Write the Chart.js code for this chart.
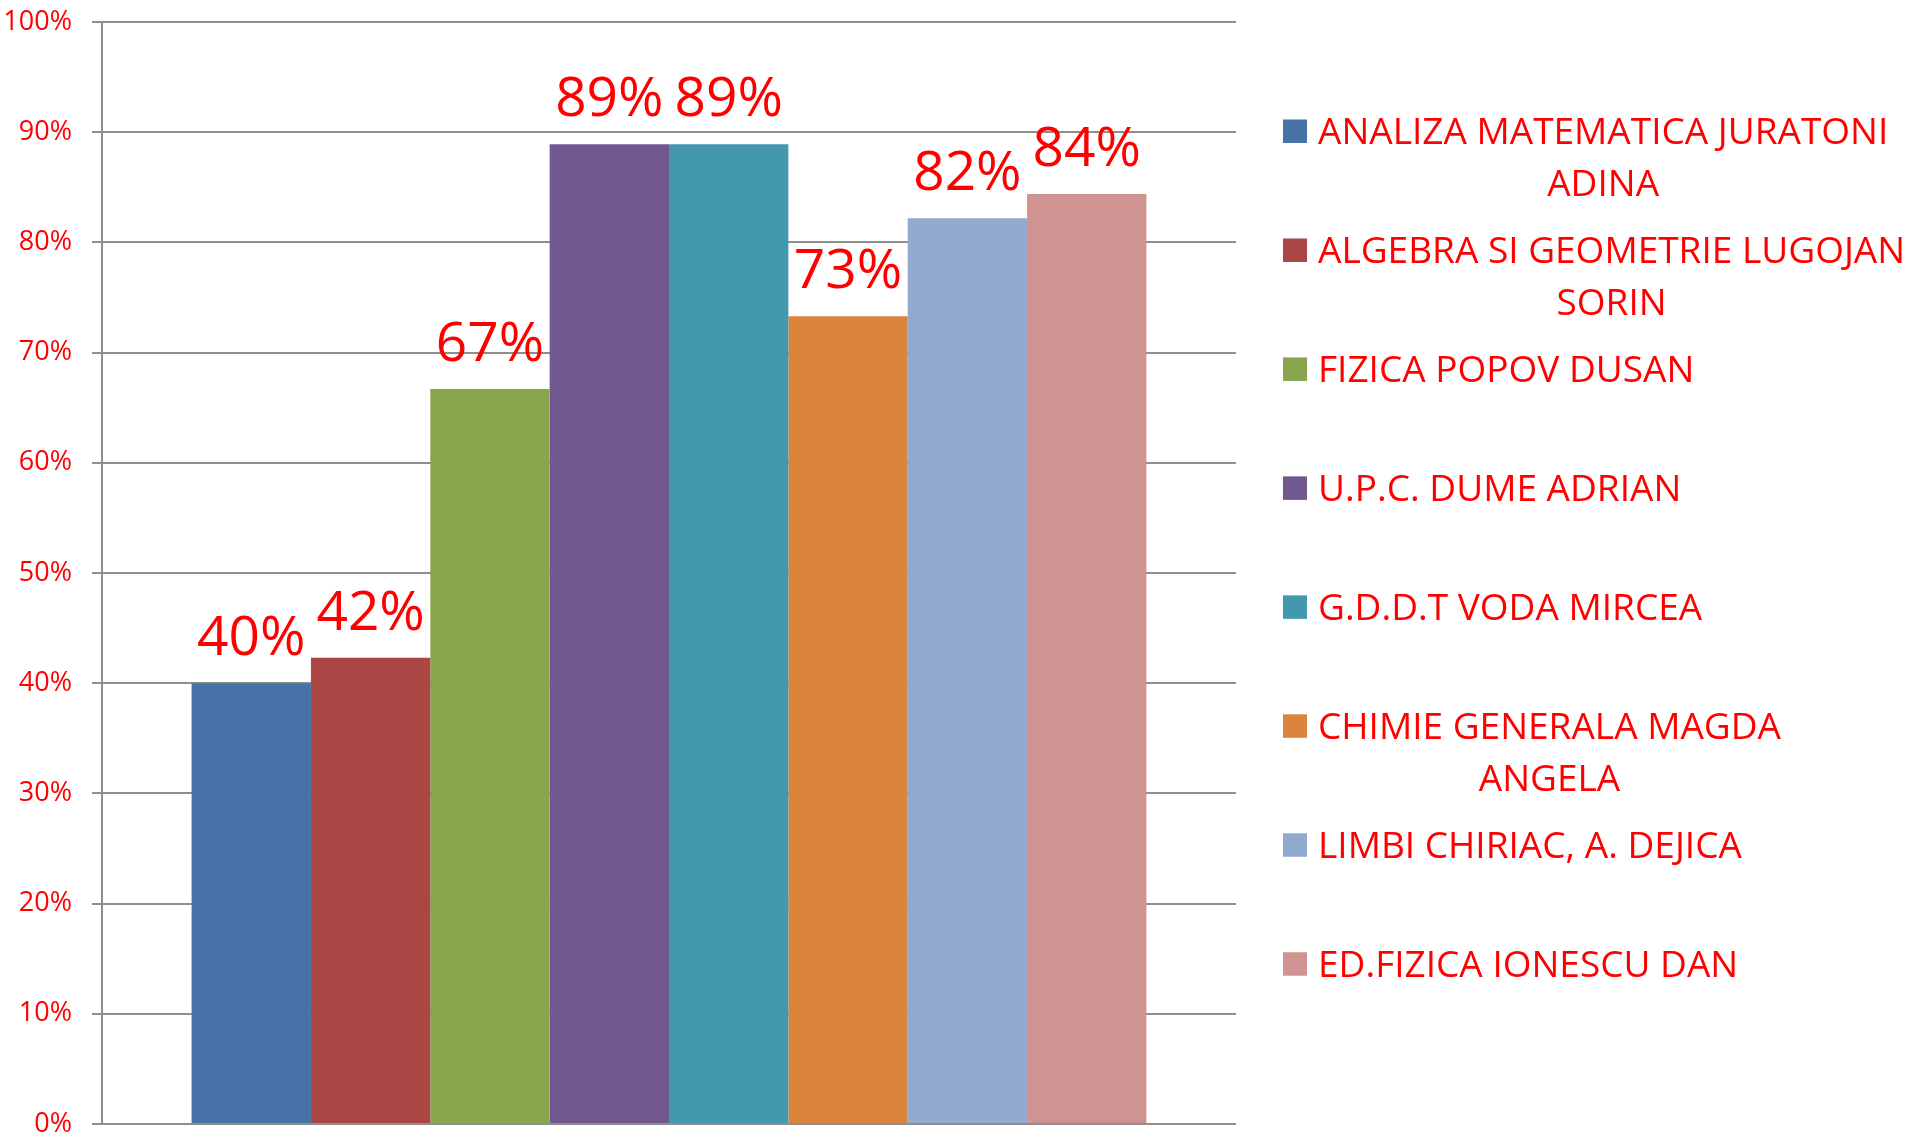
<!DOCTYPE html>
<html>
<head>
<meta charset="utf-8">
<script src="https://cdn.jsdelivr.net/npm/chart.js@4.4.1/dist/chart.umd.min.js"></script>
<style>
  html, body { margin: 0; padding: 0; background: #fff; }
  #wrap { width: 1915px; height: 1137px; position: relative; }
</style>
</head>
<body>
<div id="wrap"><canvas id="mycanvas"></canvas></div>
<script>
// data
var teachers = [
  ["ANALIZA MATEMATICA JURATONI", "ADINA"],
  ["ALGEBRA SI GEOMETRIE LUGOJAN", "SORIN"],
  ["FIZICA POPOV DUSAN"],
  ["U.P.C. DUME ADRIAN"],
  ["G.D.D.T VODA MIRCEA"],
  ["CHIMIE GENERALA MAGDA", "ANGELA"],
  ["LIMBI CHIRIAC, A. DEJICA"],
  ["ED.FIZICA IONESCU DAN"]
];
var scores = [0.40, 0.423, 0.667, 0.889, 0.889, 0.733, 0.822, 0.844];
var colors = ["#4672A7", "#AA4644", "#89A54E", "#71588F", "#4298AF", "#DB843D", "#93A9CF", "#D19392"];
var yTicks = [0, 0.1, 0.2, 0.3, 0.4, 0.5, 0.6, 0.7, 0.8, 0.9, 1];

var red = "#ff0000";
var fontName = "'Open Sans', 'DejaVu Sans', sans-serif";

var datasets = [];
for (var i in teachers) {
  datasets.push({
    label: teachers[i].join(" "),
    data: [scores[i]],
    backgroundColor: colors[i],
    borderWidth: 0,
    categoryPercentage: 0.842,
    barPercentage: 1.0
  });
}

// value labels above bars
var valueLabels = {
  id: "valueLabels",
  afterDatasetsDraw: function(chart) {
    var ctx = chart.ctx;
    ctx.save();
    ctx.fillStyle = red;
    ctx.font = "55px " + fontName;
    ctx.textAlign = "center";
    ctx.textBaseline = "alphabetic";
    chart.data.datasets.forEach(function(ds, i) {
      var bar = chart.getDatasetMeta(i).data[0];
      ctx.fillText(Math.round(ds.data[0] * 100) + "%", bar.x, bar.y - 28);
    });
    ctx.restore();
  }
};

// legend on the right, wrapped lines centred under the first one
var sideLegend = {
  id: "sideLegend",
  afterDraw: function(chart) {
    var ctx = chart.ctx;
    var area = chart.chartArea;
    var boxX = area.right + 47;
    var textX = boxX + 35;
    ctx.save();
    ctx.font = "37px " + fontName;
    ctx.textBaseline = "alphabetic";
    chart.data.datasets.forEach(function(ds, i) {
      var lines = teachers[i];
      var base = 144 + i * 118.96;
      ctx.fillStyle = ds.backgroundColor;
      ctx.fillRect(boxX, base - 24.5, 24, 23.5);
      ctx.fillStyle = red;
      ctx.textAlign = "left";
      ctx.fillText(lines[0], textX, base);
      var mid = textX + ctx.measureText(lines[0]).width / 2;
      ctx.textAlign = "center";
      for (var k = 1; k < lines.length; k++) {
        ctx.fillText(lines[k], mid, base + 51.7 * k);
      }
    });
    ctx.restore();
  }
};

var ctx = document.getElementById("mycanvas");

var BarGraph = new Chart(ctx, {
  type: "bar",
  data: { labels: [""], datasets: datasets },
  plugins: [valueLabels, sideLegend],
  options: {
    responsive: true,
    maintainAspectRatio: false,
    animation: false,
    layout: { padding: { top: 22, bottom: 13, left: 0, right: 679 } },
    scales: {
      x: { display: false },
      y: {
        min: 0,
        max: 1,
        afterBuildTicks: function(axis) {
          axis.ticks = yTicks.map(function(v) { return { value: v }; });
        },
        afterFit: function(axis) {
          axis.width = 102;
          axis.paddingTop = 0;
          axis.paddingBottom = 0;
        },
        ticks: {
          color: red,
          padding: 20,
          font: { family: fontName, size: 27 },
          callback: function(v) { return Math.round(v * 100) + "%"; }
        },
        grid: { color: "#8e8e8e", lineWidth: 2, tickLength: 10 },
        border: { color: "#8e8e8e", width: 2 }
      }
    },
    plugins: {
      legend: { display: false },
      tooltip: { enabled: false },
      title: { display: false }
    }
  }
});
</script>
</body>
</html>
